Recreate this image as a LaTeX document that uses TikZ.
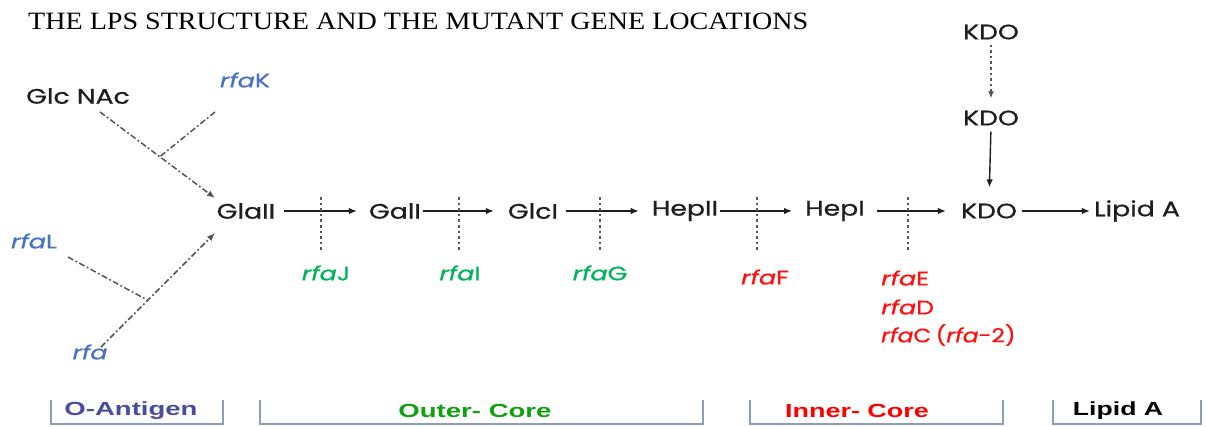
\documentclass[tikz,border=0pt]{standalone}
\usepackage{fontspec}
\setmainfont{Liberation Serif}
\newfontfamily\nodefont{Poppins}[FakeBold=0.7]
\newfontfamily\tagfont{Liberation Sans}
\usetikzlibrary{arrows.meta,calc}

\definecolor{ink}{HTML}{1E1E1E}
\definecolor{geneblue}{HTML}{4A72C2}
\definecolor{genegreen}{HTML}{00B35A}
\definecolor{genered}{HTML}{FF1010}
\definecolor{bracketcol}{HTML}{8C9CC0}
\definecolor{oantigen}{HTML}{4C4C9C}
\definecolor{outercore}{HTML}{10A010}
\definecolor{innercore}{HTML}{FF0000}

% the labels are set in a horizontally widened face
\newcommand\sgtxt[1]{\scalebox{1.27}[1]{#1}}
\newcommand\gntxt[1]{\scalebox{1.3}[1]{#1}}

\begin{document}
\begin{tikzpicture}[x=1pt,y=-1pt,
  sugar/.style={font=\nodefont\fontsize{21}{24}\selectfont, text=ink, inner sep=1pt},
  gene/.style={font=\nodefont\itshape\fontsize{19.5}{23}\selectfont, inner sep=1pt},
  flow/.style={draw=ink, line width=1.4pt, -{Latex[length=8pt,width=6.5pt]}},
  cutline/.style={draw=ink!75, line width=1.8pt, dash pattern=on 2.6pt off 3pt},
  branch/.style={draw=ink!75, line width=1.5pt, dash pattern=on 6pt off 2.5pt on 1.8pt off 2.5pt},
  branchtip/.style={branch, -{Latex[length=8pt,width=6.5pt]}},
  bracket/.style={draw=bracketcol, line width=1.6pt},
  region/.style={font=\tagfont\bfseries\fontsize{19}{22}\selectfont, inner sep=0pt},
]
\useasboundingbox (0,0) rectangle (1206,426);

% title
\node[anchor=west, inner sep=0pt] (title) at (28,21)
  {\resizebox{780pt}{16.5pt}{THE LPS STRUCTURE AND THE MUTANT GENE LOCATIONS}};

% main chain
\node[sugar] (glaII) at (246,211) {\sgtxt{GlaII}};
\node[sugar] (galI)  at (395,211) {\sgtxt{GalI}};
\node[sugar] (glcI)  at (533,211) {\sgtxt{GlcI}};
\node[sugar] (hepII) at (685,211) {\sgtxt{HepII}};
\node[sugar] (hepI)  at (835,211) {\sgtxt{HepI}};
\node[sugar] (kdo)   at (989,211) {\sgtxt{KDO}};
\node[sugar] (lipid) at (1137,211) {\sgtxt{Lipid A}};
\node[sugar] (kdoB)  at (991,118) {\sgtxt{KDO}};
\node[sugar] (kdoA)  at (991,32) {\sgtxt{KDO}};
\node[sugar] (glcnac) at (78,96) {\sgtxt{Glc NAc}};

\draw[flow, shorten <=8pt, shorten >=11pt] (glaII.east) -- (galI.west);
\draw[flow, shorten <=1pt, shorten >=13pt] (galI.east) -- (glcI.west);
\draw[flow, shorten <=7pt, shorten >=12pt] (glcI.east) -- (hepII.west);
\draw[flow, shorten <=1pt, shorten >=12pt] (hepII.east) -- (hepI.west);
\draw[flow, shorten <=11pt, shorten >=14pt] (hepI.east) -- (kdo.west);
\draw[flow, shorten <=4pt, shorten >=3pt] (kdo.east) -- (lipid.west);
\draw[flow, shorten <=5pt, shorten >=15pt] (kdoB.south) -- (kdo.north);
\draw[cutline, -{Latex[length=7pt,width=6pt]}, shorten <=4pt, shorten >=11pt] (kdoA.south) -- (kdoB.north);

% mutation sites on the chain
\foreach \n/\x in {j/321, i/459, g/600, f/757, e/908} {
  \coordinate (\n top) at (\x,197);
  \coordinate (\n bot) at (\x,252);
  \draw[cutline] (\n top) -- (\n bot);
}

\node[gene, text=genegreen] (rfaJ) at (326,273) {\gntxt{rfa\upshape J}};
\node[gene, text=genegreen] (rfaI) at (460,273) {\gntxt{rfa\upshape I}};
\node[gene, text=genegreen] (rfaG) at (600,273) {\gntxt{rfa\upshape G}};
\node[gene, text=genered]   (rfaF) at (765,277) {\gntxt{rfa\upshape F}};
\node[gene, text=genered, anchor=west] (rfaE) at (880,278) {\gntxt{rfa\upshape E}};
\node[gene, text=genered, anchor=west] (rfaD) at (880,307) {\gntxt{rfa\upshape D}};
\node[gene, text=genered, anchor=west] (rfaC) at (880,335)
  {\scalebox{1.2}[1]{rfa\upshape C\hspace{0.18em}(\itshape rfa\upshape -2)}};

% O-antigen branches
\node[gene, text=geneblue] (rfaK) at (245,80) {\gntxt{rfa\upshape K}};
\node[gene, text=geneblue] (rfaL) at (34,241) {\gntxt{rfa\upshape L}};
\node[gene, text=geneblue] (rfa)  at (90,352) {\gntxt{rfa}};

\coordinate (g0) at ($(glcnac)+(22,16)$);
\coordinate (g1) at ($(glaII)+(-31,-13)$);
\coordinate (jk) at ($(g0)!0.52!(g1)$);
\draw[branchtip] (g0) -- (g1);
\draw[branch] ($(rfaK)+(-30,32)$) -- (jk);

\coordinate (r0) at ($(rfa)+(11,-5)$);
\coordinate (r1) at ($(glaII)+(-31,22)$);
\coordinate (jl) at ($(r0)!0.41!(r1)$);
\draw[branchtip] (r0) -- (r1);
\draw[branch] ($(rfaL)+(34,16)$) -- (jl);

% structural regions
\draw[bracket] (51,400) |- (223,424) -- (223,400);
\draw[bracket] (260,400) |- (703,424) -- (703,400);
\draw[bracket] (750,400) |- (1003,424) -- (1003,400);
\draw[bracket] (1053,400) |- (1201,424) -- (1201,400);

\node[region, text=oantigen]  (oant)  at (131,411) {\scalebox{1.45}[1]{O-Antigen}};
\node[region, text=outercore] (outer) at (475,411) {\scalebox{1.45}[1]{Outer- Core}};
\node[region, text=innercore] (inner) at (857,411) {\scalebox{1.42}[1]{Inner- Core}};
\node[region, text=black]     (lipa)  at (1118,411) {\scalebox{1.4}[1]{Lipid A}};
\end{tikzpicture}
\end{document}
